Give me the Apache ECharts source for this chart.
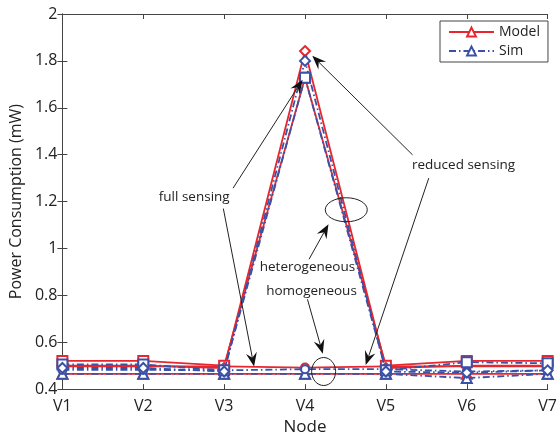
<!DOCTYPE html>
<html>
<head>
<meta charset="utf-8">
<script src="https://cdn.jsdelivr.net/npm/echarts@6/dist/echarts.min.js"></script>
<style>html,body{margin:0;padding:0;background:#fff}#c{width:560px;height:441px}</style>
</head>
<body>
<div id="c"></div>
<script>
const categories = ['V1','V2','V3','V4','V5','V6','V7'];
// Model (red, solid)
const modelHomoFull    = [0.465,0.465,0.465,0.465,0.465,0.465,0.465];
const modelHomoReduced = [0.497,0.497,0.497,0.492,0.497,0.497,0.497];
const modelHetFull     = [0.520,0.520,0.500,1.728,0.500,0.520,0.520];
const modelHetReduced  = [0.500,0.500,0.490,1.842,0.490,0.500,0.500];
// Sim (blue, dash-dot)
const simHomoFull      = [0.465,0.465,0.465,0.465,0.465,0.447,0.465];
const simHomoReduced   = [0.482,0.482,0.480,0.485,0.485,0.475,0.480];
const simHetFull       = [0.505,0.505,0.480,1.728,0.480,0.515,0.510];
const simHetReduced    = [0.490,0.490,0.475,1.800,0.475,0.470,0.480];

const annotationTexts = [
  {text:'full sensing', at:[1.63,1.218]},
  {text:'reduced sensing', at:[4.96,1.354]},
  {text:'heterogeneous', at:[3.03,0.92]},
  {text:'homogeneous', at:[3.08,0.818]}
];
const arrows = [
  {from:[2.11,1.257], to:[2.97,1.72]},
  {from:[1.99,1.17], to:[2.37,0.496]},
  {from:[4.33,1.399], to:[3.09,1.822]},
  {from:[4.53,1.30], to:[3.75,0.503]},
  {from:[3.05,0.954], to:[3.29,1.103]},
  {from:[3.03,0.783], to:[3.22,0.551]}
];
const ellipses = [
  {center:[3.51,1.165], rx:21, ry:12},
  {center:[3.23,0.475], rx:12, ry:14}
];

const RED = '#e8262e', BLUE = '#3a51a6';
const FONT = 'Open Sans';
const pairs = arr => arr.map((v,i)=>[i,v]);

function mk(name, data, symbol, color, dashed){
  return {
    name: name, type:'line', data: pairs(data),
    symbol: symbol, symbolSize: symbol==='emptyCircle'?8:10,
    lineStyle:{color:color, width:1.8, type: dashed?[7,3,1.5,3]:'solid'},
    itemStyle:{color:color, borderWidth:1.6},
    emphasis:{disabled:true}, z: dashed?3:2
  };
}

const chart = echarts.init(document.getElementById('c'), null, {renderer:'canvas'});
const axisLineStyle = {color:'#444', width:1};
chart.setOption({
  animation:false,
  backgroundColor:'#fff',
  grid:{left:62, right:8, top:14, bottom:44},
  legend:{
    data:['Model','Sim'], orient:'vertical', left:440, top:21,
    itemWidth:45, itemHeight:11, itemGap:5,
    padding:[4,8,4,8], borderColor:'#444', borderWidth:1, backgroundColor:'#fff',
    textStyle:{fontFamily:FONT, fontSize:14, color:'#222'}
  },
  xAxis:[{
    type:'value', min:0, max:6, interval:1,
    name:'Node', nameLocation:'middle', nameGap:27,
    nameTextStyle:{fontFamily:FONT, fontSize:17, color:'#222'},
    axisLine:{lineStyle:axisLineStyle}, axisTick:{inside:true, length:5, lineStyle:axisLineStyle},
    axisLabel:{formatter:v=>categories[v], fontFamily:FONT, fontSize:16, color:'#222', margin:9},
    splitLine:{show:false}
  },{
    type:'value', min:0, max:6, interval:1, position:'top',
    axisLine:{lineStyle:axisLineStyle}, axisTick:{inside:true, length:5, lineStyle:axisLineStyle},
    axisLabel:{show:false}, splitLine:{show:false}
  }],
  yAxis:[{
    type:'value', min:0.4, max:2, interval:0.2,
    name:'Power Consumption (mW)', nameLocation:'middle', nameGap:38,
    nameTextStyle:{fontFamily:FONT, fontSize:16, color:'#222'},
    axisLine:{show:true, lineStyle:axisLineStyle}, axisTick:{show:true, inside:true, length:5, lineStyle:axisLineStyle},
    axisLabel:{fontFamily:FONT, fontSize:16, color:'#222', margin:5},
    splitLine:{show:false}
  },{
    type:'value', min:0.4, max:2, interval:0.2, position:'right',
    axisLine:{show:true, lineStyle:axisLineStyle}, axisTick:{show:true, inside:true, length:5, lineStyle:axisLineStyle},
    axisLabel:{show:false}, splitLine:{show:false}
  }],
  series:[
    mk('Model', modelHomoFull, 'emptyTriangle', RED, false),
    mk('Model', modelHomoReduced, 'emptyCircle', RED, false),
    mk('Model', modelHetFull, 'emptyRect', RED, false),
    mk('Model', modelHetReduced, 'emptyDiamond', RED, false),
    mk('Sim', simHomoFull, 'emptyTriangle', BLUE, true),
    mk('Sim', simHomoReduced, 'emptyCircle', BLUE, true),
    mk('Sim', simHetFull, 'emptyRect', BLUE, true),
    mk('Sim', simHetReduced, 'emptyDiamond', BLUE, true)
  ]
});

const px = p => chart.convertToPixel({gridIndex:0}, p);
const g = [];
arrows.forEach(a=>{
  const f = px(a.from), t = px(a.to);
  const dx = t[0]-f[0], dy = t[1]-f[1], L = Math.hypot(dx,dy);
  const ux = dx/L, uy = dy/L, nx = -uy, ny = ux;
  const len = 14, hw = 5.5, notch = 9;
  const bx = t[0]-ux*len, by = t[1]-uy*len;
  const mx = t[0]-ux*notch, my = t[1]-uy*notch;
  g.push({type:'line', shape:{x1:f[0], y1:f[1], x2:mx, y2:my}, style:{stroke:'#222', lineWidth:1}, z:10, silent:true});
  g.push({type:'polygon', shape:{points:[[t[0],t[1]],[bx+nx*hw,by+ny*hw],[mx,my],[bx-nx*hw,by-ny*hw]]}, style:{fill:'#111'}, z:10, silent:true});
});
ellipses.forEach(e=>{
  const c = px(e.center);
  g.push({type:'ellipse', shape:{cx:c[0], cy:c[1], rx:e.rx, ry:e.ry}, style:{fill:null, stroke:'#222', lineWidth:1}, z:10, silent:true});
});
annotationTexts.forEach(a=>{
  const c = px(a.at);
  g.push({type:'text', x:c[0], y:c[1], style:{text:a.text, fontFamily:FONT, fontSize:13.5, fill:'#222', align:'center', verticalAlign:'middle'}, z:11, silent:true});
});
chart.setOption({graphic:g});
</script>
</body>
</html>
